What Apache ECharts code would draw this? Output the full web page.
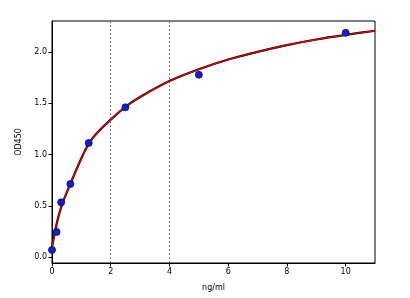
<!DOCTYPE html>
<html><head><meta charset="utf-8">
<script src="https://cdn.jsdelivr.net/npm/echarts@6/dist/echarts.min.js"></script>
<style>html,body{margin:0;padding:0;background:#fff}#c{width:410px;height:298px}</style>
</head><body><div id="c"></div>
<script>
const concX = [0, 0.156, 0.3125, 0.625, 1.25, 2.5, 5, 10];
const odY = [0.072, 0.247, 0.535, 0.714, 1.113, 1.46, 1.777, 2.185];
const curveX = [0, 0.125, 0.25, 0.375, 0.5, 0.625, 0.75, 1, 1.25, 1.5, 2, 2.5, 3, 4, 5, 6, 7, 8, 9, 10, 11];
const curveY = [0.1, 0.28, 0.43, 0.54, 0.63, 0.714, 0.80, 0.965, 1.105, 1.20, 1.34, 1.465, 1.56, 1.715, 1.83, 1.925, 2.0, 2.065, 2.12, 2.165, 2.205];
const xTicks = [0, 2, 4, 6, 8, 10];
const yTicks = [0, 0.5, 1.0, 1.5, 2.0];
const refLines = [2, 4];

const pts = concX.map((x, i) => [x, odY[i]]);
const curve = curveX.map((x, i) => [x, curveY[i]]);
const font = 'DejaVu Sans';
const chart = echarts.init(document.getElementById('c'), null, {renderer: 'canvas'});
chart.setOption({
  animation: false,
  grid: {left: 52, right: 35, top: 21, bottom: 35, show: true, borderColor: '#000', borderWidth: 1, backgroundColor: 'transparent'},
  xAxis: {
    type: 'value', min: 0, max: 11,
    name: 'ng/ml', nameLocation: 'middle', nameGap: 21,
    nameTextStyle: {fontFamily: font, fontSize: 8, color: '#000'},
    axisLine: {show: true, onZero: false, lineStyle: {color: '#000', width: 1}},
    axisTick: {show: true, length: 3.5, lineStyle: {color: '#000'}, customValues: xTicks},
    axisLabel: {fontFamily: font, fontSize: 8, color: '#000', margin: 5, customValues: xTicks, formatter: v => String(v)},
    splitLine: {show: false}
  },
  yAxis: {
    type: 'value', min: -0.055, max: 2.3,
    name: 'OD450', nameLocation: 'middle', nameGap: 27, nameRotate: 90,
    nameTextStyle: {fontFamily: font, fontSize: 8, color: '#000'},
    axisLine: {show: true, onZero: false, lineStyle: {color: '#000', width: 1}},
    axisTick: {show: true, length: 3.5, lineStyle: {color: '#000'}, customValues: yTicks},
    axisLabel: {fontFamily: font, fontSize: 8, color: '#000', margin: 5, customValues: yTicks, formatter: v => v.toFixed(1)},
    splitLine: {show: false}
  },
  series: [
    {type: 'line', data: curve, smooth: 0.25, symbol: 'none', lineStyle: {color: '#000', width: 2.2}, z: 2,
     markLine: {silent: true, symbol: 'none', label: {show: false},
       lineStyle: {color: '#555', type: [1.5, 2.5], width: 1},
       data: refLines.map(v => ({xAxis: v}))}},
    {type: 'line', data: curve, smooth: 0.25, symbol: 'none', lineStyle: {color: '#e00000', width: 1.3}, z: 3},
    {type: 'scatter', data: pts, symbol: 'circle', symbolSize: 7,
     itemStyle: {color: '#0a1fd8', borderColor: '#0a0a60', borderWidth: 0.8, opacity: 1}, z: 4}
  ]
});
</script></body></html>
